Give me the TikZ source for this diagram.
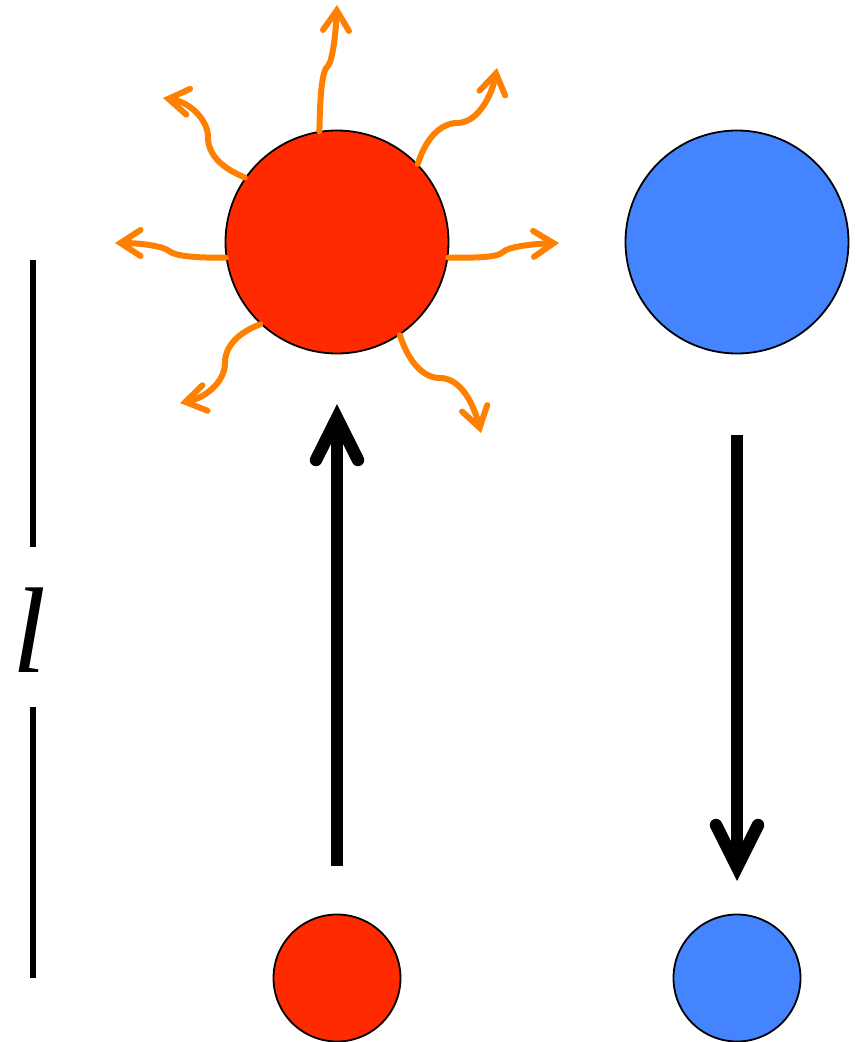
\documentclass[tikz,border=0pt]{standalone}
\usepackage{fontspec}
\setmainfont{Liberation Serif}
\usetikzlibrary{arrows.meta}
\definecolor{hotred}{RGB}{255,42,0}
\definecolor{coolblue}{RGB}{68,132,255}
\definecolor{glow}{RGB}{255,128,0}
\tikzset{
  ball/.style={circle, draw=black, line width=1.8pt, inner sep=0pt},
  bigball/.style={ball, minimum size=223pt},
  smallball/.style={ball, minimum size=127pt},
  ray/.style={draw=glow, line width=6pt, line cap=round,
    -{Straight Barb[length=20pt, width=26pt, line cap=round]}},
  motion/.style={draw=black, line width=12.5pt,
    -{Straight Barb[length=42pt, width=42pt, line cap=round]}},
  ruler/.style={draw=black, line width=6pt}
}
\begin{document}
\begin{tikzpicture}[x=1pt, y=-1pt]
\useasboundingbox (0,0) rectangle (856,1042);

% particles
\node[bigball, fill=hotred]   (R)  at (337,242) {};
\node[bigball, fill=coolblue] (B)  at (737,242) {};
\node[smallball, fill=hotred]   (r) at (337,978) {};
\node[smallball, fill=coolblue] (b) at (737,978) {};

% emission rays around the excited particle
\draw[ray] (R.99)  .. controls (320,95)  and (322,70)  .. (328,66)
                   .. controls (333,60)  and (336,30)  .. (337,5);
\draw[ray] (R.44)  .. controls (425,140) and (440,123) .. (457,123)
                   .. controls (478,123) and (492,95)  .. (497,68);
\draw[ray] (R.-8)  .. controls (480,258) and (498,257) .. (503,252)
                   .. controls (508,247) and (530,244) .. (559,243);
\draw[ray] (R.-56) .. controls (408,360) and (422,378) .. (440,378)
                   .. controls (458,378) and (472,398) .. (481,433);
\draw[ray] (R.227) .. controls (240,332) and (225,345) .. (225,363)
                   .. controls (225,382) and (205,398) .. (180,403);
\draw[ray] (R.188) .. controls (195,258) and (175,256) .. (169,251)
                   .. controls (163,246) and (140,243) .. (115,243);
\draw[ray] (R.145) .. controls (222,168) and (208,155) .. (208,137)
                   .. controls (208,120) and (190,102) .. (163,98);

% vertical transitions
\coordinate (upfrom) at (337,866);
\coordinate (upto)   at (337,404);
\coordinate (dnfrom) at (737,435);
\coordinate (dnto)   at (737,881);
\draw[motion] (upfrom) -- (upto);
\draw[motion] (dnfrom) -- (dnto);

% length marker
\node[font=\fontsize{122}{122}\selectfont\itshape] (len) at (29,630) {l};
\coordinate (ltop) at (33,260);
\coordinate (la)   at (33,547);
\coordinate (lb)   at (33,707);
\coordinate (lbot) at (33,978);
\draw[ruler] (ltop) -- (la);
\draw[ruler] (lb) -- (lbot);
\end{tikzpicture}
\end{document}
